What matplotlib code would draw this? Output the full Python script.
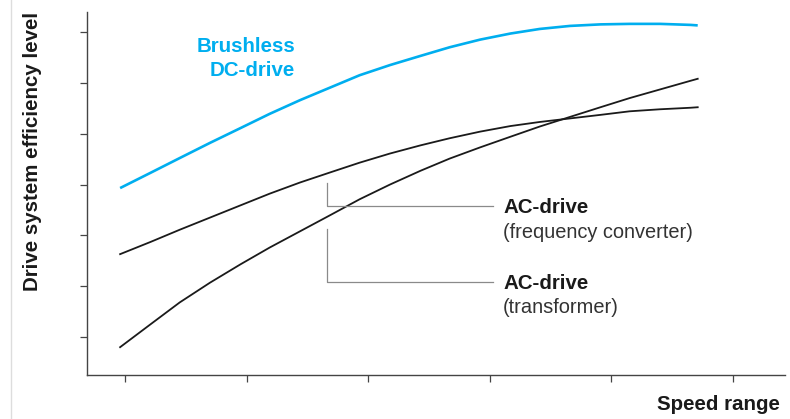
import matplotlib
matplotlib.use("Agg")
import matplotlib.pyplot as plt
from matplotlib.lines import Line2D

# ---- data (arbitrary chart units) ----
speed = [-0.04, 0.21, 0.45, 0.70, 0.95, 1.19, 1.44, 1.69, 1.93, 2.18, 2.43,
         2.67, 2.92, 3.17, 3.41, 3.66, 3.91, 4.15, 4.40, 4.65, 4.71]
brushless_dc = [3.93, 4.23, 4.52, 4.82, 5.11, 5.39, 5.66, 5.91, 6.15, 6.35, 6.53,
                6.70, 6.85, 6.97, 7.06, 7.12, 7.15, 7.16, 7.16, 7.14, 7.13]
ac_freq_conv = [2.63, 2.87, 3.11, 3.35, 3.59, 3.82, 4.04, 4.24, 4.43, 4.61, 4.77,
                4.91, 5.04, 5.15, 5.23, 5.30, 5.37, 5.44, 5.48, 5.51, 5.52]
ac_transformer = [0.80, 1.25, 1.68, 2.07, 2.43, 2.76, 3.08, 3.40, 3.71, 4.00, 4.27,
                  4.51, 4.73, 4.94, 5.14, 5.33, 5.52, 5.70, 5.87, 6.04, 6.08]
x_ticks = [0, 1, 2, 3, 4, 5]
y_ticks = [1, 2, 3, 4, 5, 6, 7]

plt.rcParams['font.family'] = ['Liberation Sans', 'DejaVu Sans']

fig = plt.figure(figsize=(7.9, 4.19), dpi=100)
ax = fig.add_axes([0.1101, 0.105, 0.8836, 0.8664])

blue = '#00aeef'
ax.plot(speed, brushless_dc, color=blue, lw=1.9, solid_capstyle='butt',
        solid_joinstyle='round')
ax.plot(speed, ac_freq_conv, color='#1a1a1a', lw=1.3, solid_joinstyle='round')
ax.plot(speed, ac_transformer, color='#1a1a1a', lw=1.3, solid_joinstyle='round')

ax.set_xlim(-0.3125, 5.428)
ax.set_ylim(0.2524, 7.394)
ax.set_xticks(x_ticks)
ax.set_yticks(y_ticks)
ax.set_xticklabels([])
ax.set_yticklabels([])
ax.tick_params(axis='both', direction='out', length=5, width=0.9, color='#444444')
for s in ['top', 'right']:
    ax.spines[s].set_visible(False)
for s in ['left', 'bottom']:
    ax.spines[s].set_color('#444444')
    ax.spines[s].set_linewidth(1.0)

# callout lines
gray = '#8a8a8a'
ax.plot([1.66, 1.66, 3.03], [4.03, 3.58, 3.58], color=gray, lw=0.9)
ax.plot([1.66, 1.66, 3.03], [3.125, 2.08, 2.08], color=gray, lw=0.9)

# labels
fs = 14.8
ax.text(3.11, 3.54, 'AC-drive', fontsize=fs, fontweight='bold', color='#1a1a1a',
        ha='left', va='center')
ax.text(3.11, 3.06, '(frequency converter)', fontsize=14.4, color='#333333',
        ha='left', va='center')
ax.text(3.11, 2.06, 'AC-drive', fontsize=fs, fontweight='bold', color='#1a1a1a',
        ha='left', va='center')
ax.text(3.11, 1.58, '(transformer)', fontsize=14.4, color='#333333',
        ha='left', va='center')
ax.text(1.40, 6.72, 'Brushless', fontsize=fs, fontweight='bold', color=blue,
        ha='right', va='center')
ax.text(1.40, 6.25, 'DC-drive', fontsize=fs, fontweight='bold', color=blue,
        ha='right', va='center')

fig.text(33 / 790, 1 - 151 / 419, 'Drive system efficiency level', rotation=90,
         fontsize=fs, fontweight='bold', color='#1a1a1a', ha='center', va='center')
fig.text(780 / 790, 1 - 404 / 419, 'Speed range', fontsize=fs, fontweight='bold',
         color='#1a1a1a', ha='right', va='center')

# light page border at far left
fig.add_artist(Line2D([11 / 790, 11 / 790], [0, 1], color='#dddddd', lw=1.0,
                      transform=fig.transFigure))

fig.savefig('out.png', dpi=100)
